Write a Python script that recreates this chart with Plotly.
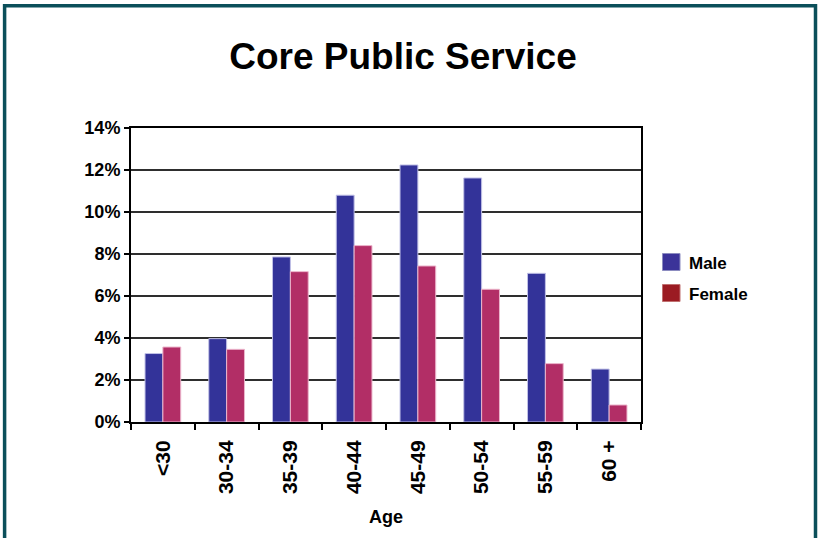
import plotly.graph_objects as go

# Share of employees by age band (%)
age_groups = ["<30", "30-34", "35-39", "40-44", "45-49", "50-54", "55-59", "60 +"]
male_pct = [3.26, 3.97, 7.86, 10.8, 12.24, 11.62, 7.08, 2.52]
female_pct = [3.57, 3.46, 7.16, 8.4, 7.43, 6.32, 2.78, 0.81]

y_ticks = [0, 2, 4, 6, 8, 10, 12, 14]
series_names = ["Male", "Female"]

MALE_COLOR = "#333399"
FEMALE_COLOR = "#b22e66"
KEY_COLORS = ["#3b3399", "#9b1b22"]

FONT = "Liberation Sans, Arial, sans-serif"

# plot-area geometry in pixels (used to place the frame and legend)
W, H = 818, 538
ML, MR, MT, MB = 131, 177, 128, 116
PW = W - ML - MR
PH = H - MT - MB


def px_x(px):
    return (px - ML) / PW


def px_y(py):
    return (H - MB - py) / PH


fig = go.Figure()

fig.add_trace(go.Bar(
    x=age_groups, y=male_pct, name="Male", showlegend=False,
    marker=dict(color=MALE_COLOR, line=dict(color="#c0c0e6", width=1)),
))
fig.add_trace(go.Bar(
    x=age_groups, y=female_pct, name="Female", showlegend=False,
    marker=dict(color=FEMALE_COLOR, line=dict(color="#ecb6cc", width=1)),
))

# frame around the whole chart
shapes = [dict(
    type="rect", xref="paper", yref="paper", layer="above",
    x0=px_x(4.6), x1=px_x(815.5), y0=px_y(5.8), y1=px_y(560),
    line=dict(color="#0b4f5a", width=3.5), fillcolor="rgba(0,0,0,0)",
)]

# legend: square keys with bold labels
annotations = []
key_top = [253.5, 284.5]
for name, color, top in zip(series_names, KEY_COLORS, key_top):
    shapes.append(dict(
        type="rect", xref="paper", yref="paper",
        x0=px_x(662.5), x1=px_x(680), y0=px_y(top + 17), y1=px_y(top),
        line=dict(color="#8c8cc0" if name == "Male" else "#c07070", width=1),
        fillcolor=color,
    ))
    annotations.append(dict(
        xref="paper", yref="paper", x=px_x(687), y=px_y(top + 9.5),
        xanchor="left", yanchor="middle", showarrow=False,
        text=f"<b>{name}</b>", font=dict(size=17, family=FONT, color="black"),
    ))

fig.update_layout(
    width=W, height=H,
    margin=dict(l=ML, r=MR, t=MT, b=MB),
    paper_bgcolor="white", plot_bgcolor="white",
    barmode="group", bargap=0.44, bargroupgap=0.0,
    showlegend=False,
    font=dict(family=FONT, color="black"),
    title=dict(text="<b>Core Public Service</b>", xref="container",
               x=403 / W, xanchor="center",
               y=1 - 56 / H, yanchor="middle",
               font=dict(size=37, family=FONT, color="black")),
    xaxis=dict(
        type="category", categoryorder="array", categoryarray=age_groups,
        tickvals=age_groups, ticktext=[f"<b>{g}</b>" for g in age_groups],
        tickangle=-90, tickson="boundaries", ticks="outside", ticklen=6,
        tickwidth=1.5, tickcolor="black",
        showline=True, linecolor="black", linewidth=2, mirror=True,
        tickfont=dict(size=21, family=FONT, color="black", weight="bold"),
        ticklabelstandoff=8,
        title=dict(text="Age", standoff=17,
                   font=dict(size=18, family=FONT, color="black", weight="bold")),
    ),
    yaxis=dict(
        range=[0, 14], tickvals=y_ticks,
        ticktext=[f"{v}%" for v in y_ticks],
        ticks="outside", ticklen=5, tickwidth=1.5, tickcolor="black",
        showline=True, linecolor="black", linewidth=2, mirror=True,
        showgrid=True, gridcolor="#2e2e2e", gridwidth=1.5,
        tickfont=dict(size=18, family=FONT, color="black", weight="bold"),
        zeroline=False,
    ),
    shapes=shapes,
    annotations=annotations,
)

fig.write_html("out.html")
